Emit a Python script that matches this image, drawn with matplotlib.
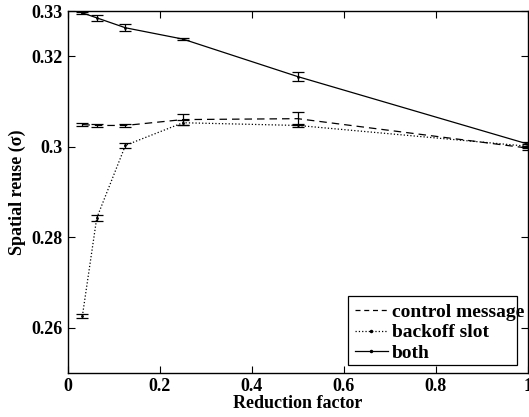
import matplotlib
matplotlib.use('Agg')
import matplotlib.pyplot as plt
from matplotlib.lines import Line2D
from matplotlib.patches import Rectangle

plt.rcParams['font.family'] = ['Liberation Serif', 'DejaVu Serif']
plt.rcParams['font.weight'] = 'bold'

factor = [1/32, 1/16, 1/8, 1/4, 1/2, 1]

control = [0.3049, 0.3047, 0.3047, 0.3060, 0.3062, 0.2997]
control_err = [0.0003, 0.0003, 0.0003, 0.0013, 0.0014, 0.0004]

backoff = [0.2625, 0.2842, 0.3003, 0.3053, 0.3047, 0.3001]
backoff_err = [0.0004, 0.0006, 0.0005, 0.0005, 0.0004, 0.0004]

both = [0.3296, 0.3285, 0.3263, 0.3238, 0.3155, 0.3006]
both_err = [0.0002, 0.0006, 0.0008, 0.0003, 0.0010, 0.0005]

fig = plt.figure(figsize=(5.29, 4.17), dpi=100)
ax = fig.add_axes([0.1285, 0.106, 0.869, 0.8675])

kw = dict(color='black', ecolor='black', elinewidth=0.9, capsize=4, capthick=0.9, linewidth=0.9)
ax.errorbar(factor, control, yerr=control_err, linestyle='--', dashes=(6, 4), **kw)
ax.errorbar(factor, backoff, yerr=backoff_err, linestyle=':', marker='.', markersize=2, **kw)
ax.errorbar(factor, both, yerr=both_err, linestyle='-', marker='.', markersize=2, **kw)

ax.set_xlim(0, 1)
ax.set_ylim(0.25, 0.33)
ax.set_xticks([0, 0.2, 0.4, 0.6, 0.8, 1])
ax.set_xticklabels(['0', '0.2', '0.4', '0.6', '0.8', '1'])
ax.set_yticks([0.26, 0.28, 0.3, 0.32, 0.33])
ax.set_yticklabels(['0.26', '0.28', '0.3', '0.32', '0.33'])
ax.tick_params(direction='in', top=True, right=True, labelsize=13, length=5, width=0.8)
for s in ax.spines.values():
    s.set_linewidth(1.0)

ax.set_xlabel('Reduction factor', fontsize=13, fontweight='bold', labelpad=0)
ax.set_ylabel('Spatial reuse (σ)', fontsize=13, fontweight='bold', labelpad=4)

# legend box is narrower than its text in the original, so draw frame separately
ax.add_patch(Rectangle((0.609, 0.021), 0.367, 0.191, transform=ax.transAxes,
                       facecolor='white', edgecolor='black', linewidth=0.9, zorder=4))
handles = [
    Line2D([], [], color='black', linewidth=0.9, linestyle='--', dashes=(4, 3)),
    Line2D([], [], color='black', linewidth=0.9, linestyle=':', marker='.', markersize=3),
    Line2D([], [], color='black', linewidth=0.9, linestyle='-', marker='.', markersize=3),
]
labels = ['control message', 'backoff slot', 'both']
leg = ax.legend(handles, labels, loc='lower left', bbox_to_anchor=(0.624, 0.03),
                fontsize=14, frameon=False, handlelength=1.7, handletextpad=0.2,
                borderpad=0, labelspacing=0.15, borderaxespad=0)
leg.set_zorder(5)

fig.savefig('out.png', dpi=100)
